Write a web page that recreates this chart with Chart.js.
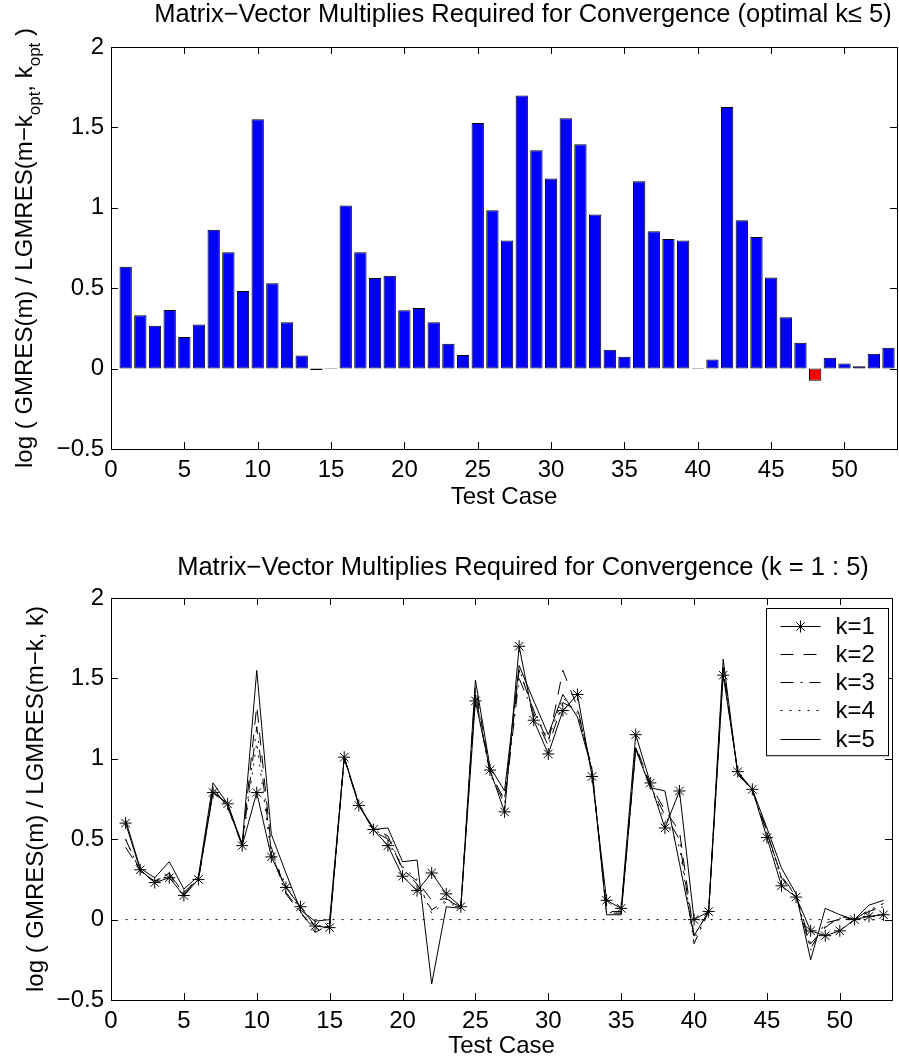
<!DOCTYPE html>
<html>
<head>
<meta charset="utf-8">
<title>Matrix-Vector Multiplies Required for Convergence</title>
<script src="https://cdn.jsdelivr.net/npm/chart.js@4.4.1/dist/chart.umd.min.js"></script>
<style>
    html, body { margin: 0; padding: 0; background: #fff; }
    canvas { position: absolute; left: 0; }
    #optimalChart { top: 0; }
    #sweepChart { top: 530px; }
</style>
</head>
<body>
<canvas id="optimalChart" width="899" height="530"></canvas>
<canvas id="sweepChart" width="899" height="531"></canvas>
<script>
// test cases on the x axis
const testCases = [1, 2, 3, 4, 5, 6, 7, 8, 9, 10,
    11, 12, 13, 14, 15, 16, 17, 18, 19, 20,
    21, 22, 23, 24, 25, 26, 27, 28, 29, 30,
    31, 32, 33, 34, 35, 36, 37, 38, 39, 40,
    41, 42, 43, 44, 45, 46, 47, 48, 49, 50,
    51, 52, 53];

// top panel: optimal k (k <= 5)
const optimalGain = [0.634, 0.332, 0.267, 0.365, 0.197, 0.274, 0.864, 0.723, 0.483, 1.551,
    0.531, 0.288, 0.081, -0.008, -0.003, 1.014, 0.723, 0.564, 0.578, 0.363,
    0.377, 0.288, 0.155, 0.085, 1.528, 0.985, 0.796, 1.698, 1.358, 1.182,
    1.557, 1.395, 0.958, 0.118, 0.073, 1.165, 0.854, 0.806, 0.796, -0.003,
    0.056, 1.627, 0.922, 0.819, 0.566, 0.319, 0.160, -0.075, 0.068, 0.031,
    0.015, 0.093, 0.129];

// bottom panel: one series per k
const gainK1 = [0.60, 0.31, 0.23, 0.26, 0.15, 0.25, 0.79, 0.72, 0.46, 0.79,
    0.39, 0.20, 0.08, -0.04, -0.05, 1.01, 0.71, 0.56, 0.46, 0.27,
    0.18, 0.29, 0.16, 0.08, 1.36, 0.93, 0.67, 1.70, 1.24, 1.03,
    1.30, 1.40, 0.89, 0.12, 0.07, 1.15, 0.85, 0.57, 0.80, 0.00,
    0.05, 1.52, 0.92, 0.81, 0.51, 0.21, 0.14, -0.07, -0.10, -0.07,
    0.00, 0.02, 0.03];
const gainK2 = [0.50, 0.30, 0.24, 0.28, 0.17, 0.25, 0.82, 0.70, 0.46, 1.33,
    0.45, 0.17, 0.05, -0.08, -0.03, 1.00, 0.71, 0.57, 0.52, 0.31,
    0.24, 0.12, 0.13, 0.08, 1.45, 0.92, 0.74, 1.55, 1.30, 1.10,
    1.55, 1.32, 0.92, 0.05, 0.05, 1.08, 0.84, 0.68, 0.55, -0.10,
    0.05, 1.57, 0.91, 0.81, 0.54, 0.27, 0.15, -0.15, -0.05, 0.02,
    0.00, 0.05, 0.09];
const gainK3 = [0.45, 0.31, 0.23, 0.29, 0.16, 0.25, 0.80, 0.71, 0.46, 1.20,
    0.42, 0.16, 0.04, -0.06, -0.04, 1.01, 0.72, 0.55, 0.50, 0.32,
    0.22, 0.06, 0.12, 0.08, 1.40, 0.91, 0.72, 1.50, 1.28, 1.08,
    1.35, 1.30, 0.94, 0.04, 0.04, 1.07, 0.83, 0.65, 0.50, -0.15,
    0.05, 1.55, 0.92, 0.80, 0.55, 0.26, 0.15, -0.18, -0.02, 0.00,
    0.00, 0.06, 0.10];
const gainK4 = [0.50, 0.30, 0.24, 0.27, 0.17, 0.26, 0.81, 0.70, 0.47, 1.10,
    0.40, 0.22, 0.05, -0.05, -0.02, 1.01, 0.71, 0.56, 0.51, 0.33,
    0.25, 0.04, 0.11, 0.07, 1.42, 0.90, 0.75, 1.56, 1.30, 1.12,
    1.38, 1.28, 0.93, 0.04, 0.05, 1.06, 0.82, 0.62, 0.45, -0.12,
    0.04, 1.55, 0.91, 0.80, 0.54, 0.25, 0.15, -0.19, -0.04, 0.01,
    0.00, 0.05, 0.08];
const gainK5 = [0.62, 0.32, 0.26, 0.36, 0.19, 0.27, 0.85, 0.72, 0.47, 1.55,
    0.53, 0.29, 0.06, -0.01, 0.00, 1.01, 0.72, 0.56, 0.57, 0.36,
    0.37, -0.40, 0.08, 0.07, 1.49, 0.95, 0.80, 1.58, 1.36, 1.15,
    1.40, 1.26, 0.93, 0.03, 0.03, 1.06, 0.82, 0.80, 0.35, -0.10,
    0.05, 1.62, 0.90, 0.81, 0.57, 0.32, 0.16, -0.25, 0.07, 0.03,
    0.00, 0.09, 0.12];

const seriesLabels = ['k=1', 'k=2', 'k=3', 'k=4', 'k=5'];

// axis limits and ticks
const xMin = 0, xMax = 53.58, xStep = 5;
const yMin = -0.5, yMax = 2, yStep = 0.5;

const FONT = '"Liberation Sans", Arial, Helvetica, sans-serif';
const FONT_SIZE = 24;
const TITLE_SIZE = 25.5;

function toPoints(values) {
    return testCases.map((c, i) => ({ x: c, y: values[i] }));
}

// MATLAB-like box with inward ticks, titles and rotated y label
const matlabFrame = {
    id: 'matlabFrame',
    afterDraw(chart, args, opts) {
        const ctx = chart.ctx;
        const { left, right, top, bottom } = chart.chartArea;
        const xs = chart.scales.x, ys = chart.scales.y;
        const tl = 7;
        ctx.save();
        ctx.strokeStyle = '#000';
        ctx.lineWidth = 1;
        ctx.setLineDash([]);
        ctx.beginPath();
        xs.ticks.forEach(t => {
            const px = Math.round(xs.getPixelForValue(t.value)) + 0.5;
            ctx.moveTo(px, bottom); ctx.lineTo(px, bottom - tl);
            ctx.moveTo(px, top); ctx.lineTo(px, top + tl);
        });
        ys.ticks.forEach(t => {
            const py = Math.round(ys.getPixelForValue(t.value)) + 0.5;
            ctx.moveTo(left, py); ctx.lineTo(left + tl, py);
            ctx.moveTo(right, py); ctx.lineTo(right - tl, py);
        });
        ctx.stroke();
        ctx.strokeRect(Math.round(left) + 0.5, Math.round(top) + 0.5,
            Math.round(right - left), Math.round(bottom - top));

        // title
        ctx.fillStyle = '#000';
        ctx.font = TITLE_SIZE + 'px ' + FONT;
        ctx.textAlign = 'center';
        ctx.textBaseline = 'middle';
        ctx.fillText(opts.title, opts.titleX, opts.titleY);

        // rotated y label with subscripts
        ctx.translate(opts.labelX, (top + bottom) / 2);
        ctx.rotate(-Math.PI / 2);
        ctx.textAlign = 'left';
        ctx.textBaseline = 'alphabetic';
        const mainFont = FONT_SIZE + 'px ' + FONT;
        const subFont = Math.round(FONT_SIZE * 0.7) + 'px ' + FONT;
        let total = 0;
        opts.label.forEach(p => {
            ctx.font = p.sub ? subFont : mainFont;
            total += ctx.measureText(p.text).width;
        });
        let cx = -total / 2;
        opts.label.forEach(p => {
            ctx.font = p.sub ? subFont : mainFont;
            ctx.fillText(p.text, cx, p.sub ? FONT_SIZE * 0.35 : 0);
            cx += ctx.measureText(p.text).width;
        });
        ctx.restore();
    }
};

// legend box inside the plot, line samples drawn from the dataset styles
const lineLegend = {
    id: 'lineLegend',
    afterDraw(chart, args, opts) {
        if (!opts.display) return;
        const ctx = chart.ctx;
        const { right, top } = chart.chartArea;
        const boxW = 122, rowH = 28.3, padTop = 17;
        const items = chart.data.datasets.filter(d => seriesLabels.includes(d.label));
        const boxH = padTop * 2 + rowH * (items.length - 1);
        const bx = Math.round(right - 4 - boxW) + 0.5, by = Math.round(top + 10) + 0.5;
        ctx.save();
        ctx.fillStyle = '#fff';
        ctx.fillRect(bx, by, boxW, boxH);
        ctx.strokeStyle = '#000';
        ctx.lineWidth = 1;
        ctx.strokeRect(bx, by, boxW, boxH);
        items.forEach((d, i) => {
            const y = Math.round(by + padTop + i * rowH) + 0.5;
            const x0 = bx + 14, x1 = bx + 54;
            ctx.setLineDash(d.borderDash || []);
            ctx.beginPath();
            ctx.moveTo(x0, y); ctx.lineTo(x1, y);
            ctx.stroke();
            ctx.setLineDash([]);
            if (d.pointRadius > 0) {
                Chart.helpers.drawPoint(ctx, {
                    pointStyle: d.pointStyle, radius: d.pointRadius,
                    borderWidth: 1, rotation: 0
                }, (x0 + x1) / 2, y);
            }
            ctx.fillStyle = '#000';
            ctx.font = FONT_SIZE + 'px ' + FONT;
            ctx.textAlign = 'left';
            ctx.textBaseline = 'middle';
            ctx.fillText(d.label, bx + 69, y + 1);
        });
        ctx.restore();
    }
};

function axesOptions(xHeight, titlePadBottom) {
    const tickFont = { family: FONT, size: FONT_SIZE };
    return {
        x: {
            type: 'linear', min: xMin, max: xMax, offset: false,
            afterFit: s => { s.height = xHeight; },
            grid: { display: false, drawTicks: false, offset: false },
            border: { display: false },
            ticks: { stepSize: xStep, includeBounds: false, padding: 7, color: '#000',
                font: tickFont, maxRotation: 0, autoSkip: false },
            title: { display: true, text: 'Test Case', color: '#000', font: tickFont,
                padding: { top: 0, bottom: titlePadBottom } }
        },
        y: {
            type: 'linear', min: yMin, max: yMax,
            afterFit: s => { s.width = 111; },
            grid: { display: false, drawTicks: false },
            border: { display: false },
            ticks: { stepSize: yStep, padding: 7, color: '#000', font: tickFont,
                callback: v => String(v).replace('-', '\u2212') }
        }
    };
}

document.addEventListener('DOMContentLoaded', function() {
    // Optimal k bar chart
    new Chart(document.getElementById('optimalChart'), {
        type: 'bar',
        data: {
            datasets: [{
                label: 'optimal k',
                data: toPoints(optimalGain),
                backgroundColor: optimalGain.map(v => v < 0 ? '#ff0000' : '#0000ff'),
                borderColor: '#000',
                borderWidth: 1,
                borderSkipped: false,
                barPercentage: 0.84,
                categoryPercentage: 1
            }]
        },
        options: {
            responsive: false,
            animation: false,
            events: [],
            layout: { padding: { top: 47, right: 2, left: 0, bottom: 0 } },
            scales: axesOptions(81, 18),
            plugins: {
                legend: { display: false },
                title: { display: false },
                tooltip: { enabled: false },
                matlabFrame: {
                    title: 'Matrix\u2212Vector Multiplies Required for Convergence (optimal k\u2264 5)',
                    titleX: 523, titleY: 15, labelX: 32,
                    label: [
                        { text: 'log ( GMRES(m) / LGMRES(m\u2212k' },
                        { text: 'opt', sub: true },
                        { text: ', k' },
                        { text: 'opt', sub: true },
                        { text: ' )' }
                    ]
                },
                lineLegend: { display: false }
            }
        },
        plugins: [matlabFrame, lineLegend]
    });

    // k = 1 : 5 line chart
    const lineBase = { borderColor: '#000', borderWidth: 1, fill: false, tension: 0,
        pointRadius: 0, pointBorderColor: '#000', pointBackgroundColor: '#000' };
    new Chart(document.getElementById('sweepChart'), {
        type: 'line',
        data: {
            datasets: [
                Object.assign({}, lineBase, { label: 'k=1', data: toPoints(gainK1),
                    pointStyle: 'star', pointRadius: 6, pointBorderWidth: 1 }),
                Object.assign({}, lineBase, { label: 'k=2', data: toPoints(gainK2), borderDash: [13, 10] }),
                Object.assign({}, lineBase, { label: 'k=3', data: toPoints(gainK3), borderDash: [13, 7, 2, 7] }),
                Object.assign({}, lineBase, { label: 'k=4', data: toPoints(gainK4), borderDash: [2, 7] }),
                Object.assign({}, lineBase, { label: 'k=5', data: toPoints(gainK5) }),
                Object.assign({}, lineBase, { label: 'zero', data: toPoints(testCases.map(() => 0)),
                    borderDash: [2, 7] })
            ]
        },
        options: {
            responsive: false,
            animation: false,
            events: [],
            layout: { padding: { top: 68, right: 2, left: 0, bottom: 0 } },
            scales: axesOptions(61, 0),
            plugins: {
                legend: { display: false },
                title: { display: false },
                tooltip: { enabled: false },
                matlabFrame: {
                    title: 'Matrix\u2212Vector Multiplies Required for Convergence (k = 1 : 5)',
                    titleX: 523, titleY: 38, labelX: 43,
                    label: [{ text: 'log ( GMRES(m) / LGMRES(m\u2212k, k)' }]
                },
                lineLegend: { display: true }
            }
        },
        plugins: [matlabFrame, lineLegend]
    });
});
</script>
</body>
</html>
